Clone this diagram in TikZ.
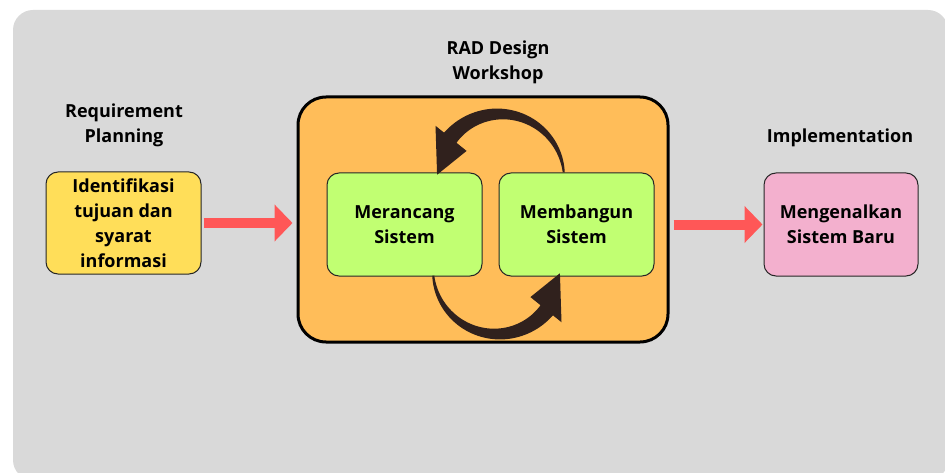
\documentclass[tikz,border=0pt]{standalone}
\usepackage{fontspec}
\setmainfont{Open Sans}
\usetikzlibrary{arrows.meta,calc}
\definecolor{bggray}{RGB}{217,217,217}
\definecolor{boxyellow}{RGB}{255,222,89}
\definecolor{boxorange}{RGB}{255,189,89}
\definecolor{boxgreen}{RGB}{193,255,114}
\definecolor{boxpink}{RGB}{243,176,206}
\definecolor{arrowred}{RGB}{255,87,87}
\definecolor{loopbrown}{RGB}{48,33,29}
\begin{document}
\begin{tikzpicture}[x=1pt,y=1pt,
  box/.style={draw=black!85, line width=1pt, rounded corners=12pt, inner sep=0pt,
    align=center, font=\bfseries\fontsize{18}{25}\selectfont},
  bigbox/.style={draw=black, line width=3pt, rounded corners=28pt, fill=boxorange, inner sep=0pt},
  titletext/.style={align=center, font=\bfseries\fontsize{18}{25}\selectfont},
  redarrow/.style={draw=arrowred, line width=10pt, -{Triangle[width=36pt,length=18pt]}},
]
\useasboundingbox (0,0) rectangle (945,472);
\begin{scope}
  \clip (0,0) rectangle (945,472);
  \fill[bggray, rounded corners=20pt] (13,462) rectangle (948,-8);
\end{scope}

% titles
\node[titletext] (t1) at (498,409.5) {RAD Design\\Workshop};
\node[titletext] (t2) at (124,347) {Requirement\\Planning};
\node[titletext] (t3) at (840,334) {Implementation};

% boxes
\node[box, fill=boxyellow, minimum width=155pt, minimum height=102pt] (req) at (123.5,249) {Identifikasi\\tujuan dan\\syarat\\informasi};
\node[bigbox, minimum width=370pt, minimum height=245pt] (rad) at (483,252.5) {};
\node[box, fill=boxgreen, minimum width=155pt, minimum height=103pt] (mer) at (404.5,247.5) {Merancang\\Sistem};
\node[box, fill=boxgreen, minimum width=155pt, minimum height=103pt] (mem) at (576.5,247.5) {Membangun\\Sistem};
\node[box, fill=boxpink, minimum width=154pt, minimum height=103pt] (imp) at (841,247.5) {Mengenalkan\\Sistem Baru};

% red arrows
\draw[redarrow, shorten <=2pt, shorten >=4pt] (req.east) -- (req.east -| rad.west);
\draw[redarrow, shorten <=4pt, shorten >=1pt] (rad.east |- imp.west) -- (imp.west);

% loop arrows (top: Membangun -> Merancang)
\fill[loopbrown]
  plot[domain=5:141, samples=50] ({500+(64+1+7*(\x-5)/136)*cos(\x)}, {294+(64+1+7*(\x-5)/136)*sin(\x)})
  -- ({500+83*cos(141)}, {294+83*sin(141)})
  -- ({500+63*cos(177)}, {294+63*sin(177)})
  -- ({500+43*cos(141)}, {294+43*sin(141)})
  -- plot[domain=141:5, samples=50] ({500+(64-1-7*(\x-5)/136)*cos(\x)}, {294+(64-1-7*(\x-5)/136)*sin(\x)})
  -- cycle;
% bottom: Merancang -> Membangun
\fill[loopbrown]
  plot[domain=185:321, samples=50] ({497+(64+1+7*(\x-185)/136)*cos(\x)}, {202+(64+1+7*(\x-185)/136)*sin(\x)})
  -- ({497+83*cos(321)}, {202+83*sin(321)})
  -- ({497+63*cos(357)}, {202+63*sin(357)})
  -- ({497+43*cos(321)}, {202+43*sin(321)})
  -- plot[domain=321:185, samples=50] ({497+(64-1-7*(\x-185)/136)*cos(\x)}, {202+(64-1-7*(\x-185)/136)*sin(\x)})
  -- cycle;
\end{tikzpicture}
\end{document}
